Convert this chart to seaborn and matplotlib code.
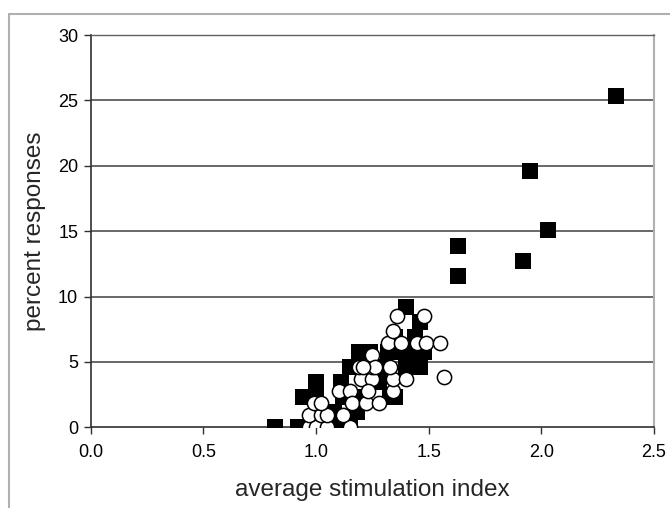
import matplotlib
matplotlib.use("Agg")
import matplotlib.pyplot as plt
import seaborn as sns
import pandas as pd
from matplotlib.patches import Rectangle

# Filled squares
sq_x = [0.82, 0.92, 0.94, 1.00, 1.00, 1.00, 1.05, 1.08, 1.10, 1.11, 1.12, 1.15,
        1.15, 1.18, 1.19, 1.22, 1.20, 1.24, 1.26, 1.28, 1.30, 1.32, 1.33, 1.35,
        1.35, 1.37, 1.40, 1.40, 1.42, 1.44, 1.46, 1.46, 1.48, 1.63, 1.63, 1.92,
        1.95, 2.03, 2.33]
sq_y = [0.0, 0.0, 2.3, 2.3, 3.45, 1.15, 0.0, 1.15, 0.0, 3.45, 2.3, 4.6,
        0.0, 1.15, 5.75, 5.75, 2.3, 5.75, 3.45, 3.45, 4.6, 5.75, 2.3, 2.3,
        6.9, 5.75, 9.2, 4.6, 5.75, 6.9, 8.05, 4.6, 5.75, 13.9, 11.6, 12.75,
        19.6, 15.05, 25.35]

# Open circles
ci_x = [0.97, 1.00, 1.05, 1.15, 0.97, 1.02, 1.05, 1.12, 0.99, 1.02, 1.10, 1.15,
        1.20, 1.25, 1.19, 1.25, 1.25, 1.16, 1.22, 1.28, 1.23, 1.34, 1.34, 1.40,
        1.57, 1.26, 1.33, 1.21, 1.32, 1.375, 1.45, 1.49, 1.55, 1.34, 1.36, 1.48]
ci_y = [0.0, 0.0, 0.0, 0.0, 0.93, 0.93, 0.93, 0.93, 1.85, 1.85, 2.78, 2.78,
        3.7, 3.7, 4.63, 4.63, 5.56, 1.85, 1.85, 1.85, 2.78, 2.78, 3.7, 3.7,
        3.85, 4.63, 4.63, 4.63, 6.48, 6.48, 6.48, 6.48, 6.48, 7.4, 8.5, 8.5]

x_ticks = [0.0, 0.5, 1.0, 1.5, 2.0, 2.5]
y_ticks = [0, 5, 10, 15, 20, 25, 30]

sns.set_style("white")
plt.rcParams['font.family'] = ['Liberation Sans', 'DejaVu Sans']

fig = plt.figure(figsize=(6.7, 5.08), dpi=100)
ax = fig.add_axes([90.7 / 670, 1 - 427.3 / 508, (654 - 90.7) / 670, (427.3 - 35) / 508])

# figure frame (left and top edges visible)
top = 1 - 14 / 508
fig.patches.append(Rectangle((9 / 670, -0.2), 1.2, top + 0.2, transform=fig.transFigure,
                             fill=False, edgecolor='#b0b0b0', linewidth=1.5, zorder=0))

for yv in y_ticks[1:]:
    ax.axhline(yv, color='#404040', linewidth=1.1, zorder=1)

sq_df = pd.DataFrame({'x': sq_x, 'y': sq_y})
ci_df = pd.DataFrame({'x': ci_x, 'y': ci_y})

sns.scatterplot(data=sq_df, x='x', y='y', marker='s', s=120, color='black',
                edgecolor='black', linewidth=0, ax=ax, zorder=3)
sns.scatterplot(data=ci_df, x='x', y='y', marker='o', s=105, color='white',
                edgecolor='black', linewidth=1.1, ax=ax, zorder=4)

ax.set_xlim(0, 2.5)
ax.set_ylim(0, 30)
ax.set_xticks(x_ticks)
ax.set_xticklabels([f"{v:.1f}" for v in x_ticks])
ax.set_yticks(y_ticks)
ax.set_yticklabels([str(v) for v in y_ticks])
ax.tick_params(axis='both', direction='out', length=5, width=1, color='#303030',
               labelsize=13, labelcolor='black', bottom=True, left=True)
ax.tick_params(axis='x', pad=7)
ax.tick_params(axis='y', pad=4)

for side in ['left', 'bottom']:
    ax.spines[side].set_color('#303030')
    ax.spines[side].set_linewidth(1.2)
ax.spines['top'].set_color('#606060')
ax.spines['top'].set_linewidth(1.0)
ax.spines['right'].set_color('#b0b0b0')
ax.spines['right'].set_linewidth(1.5)

ax.set_xlabel('average stimulation index', fontsize=17.5, labelpad=13)
ax.set_ylabel('percent responses', fontsize=17.5, labelpad=9)

fig.savefig('out.png', dpi=100)
